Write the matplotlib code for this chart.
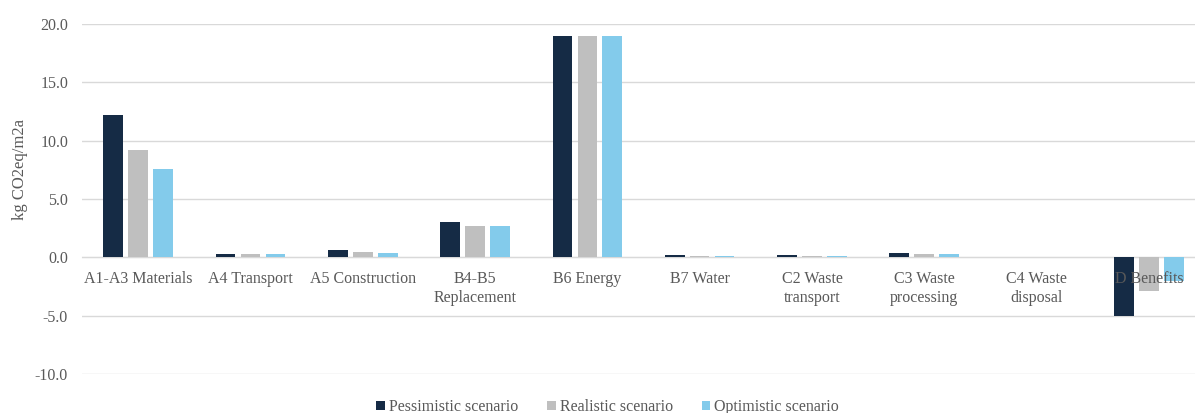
import numpy as np
import matplotlib.pyplot as plt

categories = ['A1-A3 Materials', 'A4 Transport', 'A5 Construction', 'B4-B5\nReplacement',
              'B6 Energy', 'B7 Water', 'C2 Waste\ntransport', 'C3 Waste\nprocessing',
              'C4 Waste\ndisposal', 'D Benefits']
pessimistic = [12.2, 0.3, 0.6, 3.0, 19.0, 0.2, 0.2, 0.35, 0.0, -5.0]
realistic = [9.2, 0.25, 0.45, 2.65, 19.0, 0.15, 0.15, 0.3, 0.0, -2.85]
optimistic = [7.6, 0.25, 0.4, 2.65, 19.0, 0.15, 0.15, 0.3, 0.0, -2.05]

plt.rcParams['font.family'] = ['Liberation Serif', 'DejaVu Serif']
grey_text = '#595959'

fig = plt.figure(figsize=(11.95, 4.13), dpi=100)
# plot area runs a little past the right edge of the figure
ax = fig.add_axes([82 / 1195, 1 - 374 / 413, 1123 / 1195, (374 - 24) / 413])

x = np.arange(len(categories))
w = 0.175
step = 0.222
ax.bar(x - step, pessimistic, w, color='#152b45', label='Pessimistic scenario', zorder=2)
ax.bar(x, realistic, w, color='#bfbfbf', label='Realistic scenario', zorder=2)
ax.bar(x + step, optimistic, w, color='#83cbeb', label='Optimistic scenario', zorder=2)

ax.set_xlim(-0.5, len(categories) - 0.5)
ax.set_ylim(-10, 20)
ax.set_yticks(np.arange(-10, 21, 5))
ax.set_yticklabels([f'{v:.1f}' for v in np.arange(-10, 21, 5)])
ax.yaxis.grid(True, color='#d9d9d9', linewidth=1)
ax.yaxis.set_zorder(1)

for s in ['top', 'right', 'left']:
    ax.spines[s].set_visible(False)
# category axis sits on the zero line, labels drawn above the bars
ax.spines['bottom'].set_position(('data', 0))
ax.spines['bottom'].set_color('#d9d9d9')
ax.spines['bottom'].set_zorder(1)
ax.xaxis.set_zorder(3)
ax.set_xticks(x)
ax.set_xticklabels(categories, linespacing=1.25)
ax.tick_params(axis='x', length=0, pad=10, labelsize=11.5, labelcolor=grey_text)
ax.tick_params(axis='y', length=0, pad=10, labelsize=11.5, labelcolor=grey_text)

ax.set_ylabel('kg CO2eq/m2a', fontsize=12, color=grey_text)
ax.yaxis.set_label_coords(-0.0485, 0.583)

ax.legend(loc='center', bbox_to_anchor=(0.468, -0.095), ncol=3, frameon=False,
          fontsize=11.5, labelcolor=grey_text, handlelength=0.55, handleheight=0.55,
          handletextpad=0.25, columnspacing=1.8)

fig.savefig('out.png', dpi=100)
